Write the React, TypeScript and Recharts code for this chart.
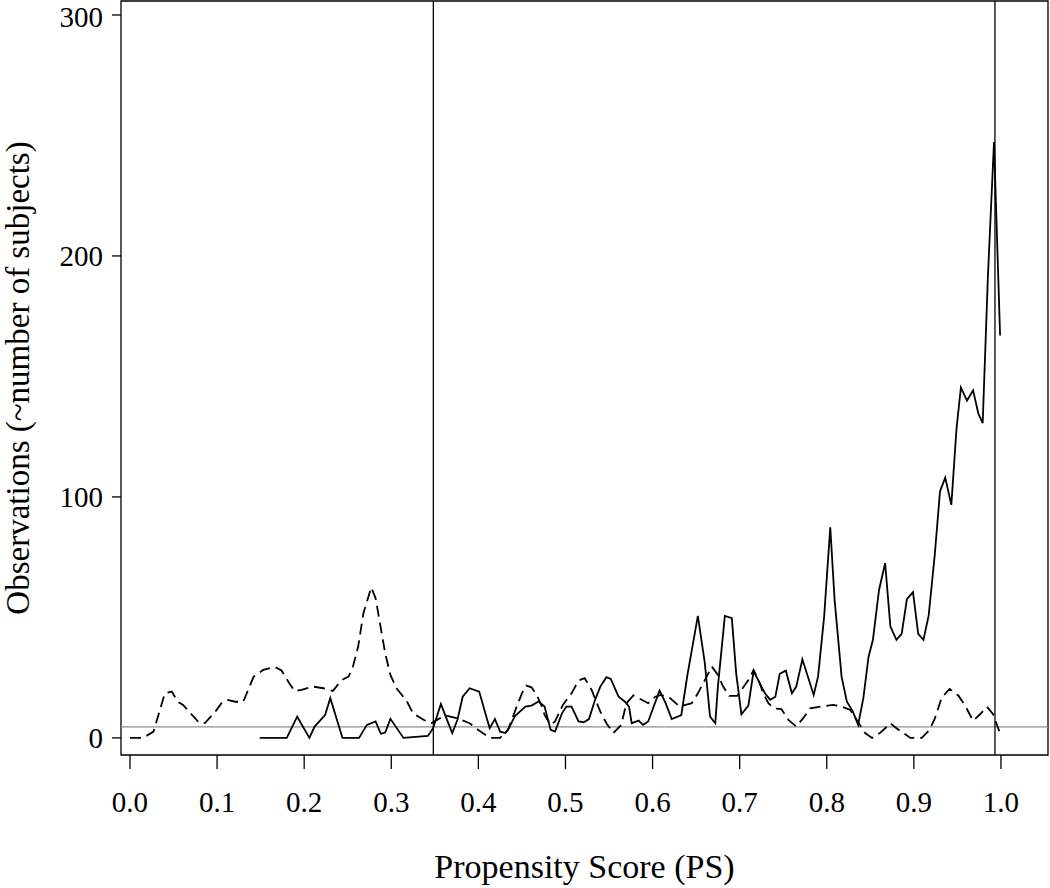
import { LineChart, Line, XAxis, YAxis, ReferenceLine, ReferenceArea } from "recharts"

// solid curve (treated)
const solidPs = [
  0.149, 0.18, 0.192, 0.206, 0.212, 0.224, 0.23, 0.244, 0.263, 0.272, 0.282, 0.288, 0.293, 0.299, 0.314,
  0.342, 0.348, 0.357, 0.364, 0.37, 0.376, 0.382, 0.39, 0.401, 0.408, 0.413, 0.419, 0.425, 0.431, 0.435,
  0.442, 0.454, 0.461, 0.469, 0.476, 0.483, 0.488, 0.496, 0.501, 0.507, 0.515, 0.521, 0.527, 0.534, 0.54,
  0.547, 0.552, 0.561, 0.568, 0.573, 0.576, 0.584, 0.589, 0.595, 0.608, 0.615, 0.622, 0.633, 0.64, 0.652,
  0.66, 0.666, 0.672, 0.675, 0.683, 0.691, 0.696, 0.702, 0.71, 0.716, 0.723, 0.729, 0.735, 0.741, 0.746,
  0.753, 0.76, 0.765, 0.772, 0.785, 0.79, 0.797, 0.804, 0.809, 0.817, 0.823, 0.83, 0.836, 0.842, 0.848,
  0.853, 0.86, 0.867, 0.873, 0.88, 0.886, 0.892, 0.899, 0.905, 0.911, 0.917, 0.924, 0.93, 0.936, 0.943,
  0.949, 0.954, 0.961, 0.968, 0.974, 0.979, 0.985, 0.992, 0.999,
]
const solidObs = [
  0, 0, 8.8, 0, 4.7, 9.5, 16.5, 0, 0, 5.4, 6.8, 1.7, 2.2, 7.9, 0,
  0.8, 4, 14.1, 7.5, 2, 7.5, 17.1, 20.6, 19.2, 10.2, 4, 7.8, 2.6, 2, 4,
  9.1, 13, 13.4, 15.1, 13, 3.3, 2.6, 10.2, 13, 13, 6.8, 6.5, 7.8, 15.8, 21.3,
  25.2, 24.5, 17.1, 15.1, 13, 6.1, 7.2, 5.4, 6.8, 19.6, 14.4, 7.8, 9.5, 26.1, 50.6,
  31, 8.8, 6.1, 21.3, 50.6, 49.7, 26.8, 9.8, 13.4, 27.7, 22.7, 18.5, 15.8, 17.1, 26.6,
  27.9, 18.5, 21.3, 32.6, 17.8, 25.4, 50.3, 87.4, 57.3, 25.4, 15.1, 10.9, 5.4, 16.5, 33.7,
  40.7, 61.4, 72.5, 46.3, 40.7, 43.2, 57.6, 60.5, 43.2, 40.7, 50.8, 76, 102.3, 108, 96.7,
  128.5, 145.4, 140, 144.2, 134.6, 130.6, 191.4, 247.3, 167,
]

// dashed curve (untreated)
const dashedPs = [
  0, 0.015, 0.027, 0.04, 0.048, 0.055, 0.061, 0.069, 0.08, 0.086, 0.098, 0.105, 0.111, 0.121, 0.13,
  0.142, 0.153, 0.166, 0.174, 0.184, 0.189, 0.197, 0.21, 0.222, 0.233, 0.243, 0.251, 0.256, 0.262, 0.268,
  0.277, 0.282, 0.287, 0.293, 0.299, 0.306, 0.318, 0.325, 0.337, 0.346, 0.356, 0.362, 0.375, 0.39, 0.4,
  0.413, 0.425, 0.434, 0.444, 0.45, 0.455, 0.461, 0.467, 0.473, 0.476, 0.483, 0.488, 0.497, 0.507, 0.515,
  0.522, 0.53, 0.54, 0.547, 0.555, 0.564, 0.57, 0.578, 0.584, 0.595, 0.603, 0.61, 0.62, 0.631, 0.645,
  0.652, 0.66, 0.668, 0.675, 0.681, 0.688, 0.697, 0.702, 0.71, 0.716, 0.723, 0.727, 0.733, 0.739, 0.748,
  0.756, 0.765, 0.773, 0.781, 0.794, 0.807, 0.817, 0.827, 0.832, 0.838, 0.844, 0.852, 0.861, 0.867, 0.873,
  0.88, 0.888, 0.896, 0.909, 0.918, 0.924, 0.932, 0.941, 0.951, 0.959, 0.968, 0.976, 0.984, 0.991, 0.998,
]
const dashedObs = [
  0, 0, 2.6, 18.5, 19.2, 15, 13.7, 10.4, 6.1, 6.1, 10.9, 14.4, 15.8, 15, 15,
  25.4, 28.2, 29.5, 28, 22, 19.5, 19.9, 21.3, 20.6, 19.5, 24, 25.4, 29.6, 37.9, 51.7,
  62.5, 58, 47.6, 35.1, 26.1, 20.6, 15.1, 10.2, 7.5, 6.1, 8.2, 9.3, 8.2, 6.1, 3.3,
  0, 0, 3.3, 13, 18.5, 21.7, 21, 17.8, 13, 9.5, 5.4, 6.8, 13.7, 18.5, 23.8,
  24.8, 19.9, 10.9, 6.1, 2, 5.4, 14.4, 17.6, 16.5, 14.4, 17.1, 17.8, 16.5, 13, 14.4,
  18.5, 24, 29.6, 26.1, 21.3, 17.4, 17.4, 19.9, 24, 28.2, 22.7, 18.5, 14.4, 12.3, 11.9,
  7.5, 4.7, 8.2, 12.3, 13, 13.7, 13, 11.6, 8.8, 5.4, 2, 0, 2, 4, 6.1,
  4, 2, 0, 0, 3.3, 8, 16.8, 20.3, 17.6, 13.3, 7.1, 9.8, 12.9, 9.8, 2.8,
]

const xTicks = [0, 0.1, 0.2, 0.3, 0.4, 0.5, 0.6, 0.7, 0.8, 0.9, 1.0]
const yTicks = [0, 100, 200, 300]
const xDomain = [-0.0103, 1.054]
const yDomain = [-7.1, 305.8]
const psCutoffs = [0.3483, 0.9931]
const baselineObs = 4.6

const solidData = solidPs.map((ps, i) => ({ ps, obs: solidObs[i] }))
const dashedData = dashedPs.map((ps, i) => ({ ps, obs: dashedObs[i] }))

const font = "'Liberation Serif', 'Times New Roman', serif"

function XLabel(props: any) {
  const { viewBox } = props
  const cx = viewBox.x + viewBox.width / 2
  return (
    <text x={cx} y={viewBox.y + 123} textAnchor="middle" fontFamily={font} fontSize={34} fill="#000">
      Propensity Score (PS)
    </text>
  )
}

function YLabel(props: any) {
  const { viewBox } = props
  // baseline kept just inside the left edge
  const cx = viewBox.x + 29
  const cy = viewBox.y + viewBox.height / 2
  return (
    <text x={cx} y={cy} transform={`rotate(-90, ${cx}, ${cy})`} textAnchor="middle" fontFamily={font} fontSize={33} fill="#000">
      Observations (~number of subjects)
    </text>
  )
}

export default function App() {
  return (
    <div style={{ position: "absolute", left: 0, top: 0, background: "#fff" }}>
      <LineChart width={1050} height={888} margin={{ top: 1, right: 2, left: 0, bottom: 0 }}>
        <XAxis
          type="number"
          dataKey="ps"
          domain={xDomain}
          ticks={xTicks}
          allowDataOverflow
          tickFormatter={(v) => v.toFixed(1)}
          height={133}
          axisLine={false}
          tickSize={14}
          tickMargin={22}
          tickLine={{ stroke: "#000", strokeWidth: 1.3 }}
          tick={{ fill: "#000", fontSize: 29, fontFamily: font }}
          label={<XLabel />}
        />
        <YAxis
          type="number"
          domain={yDomain}
          ticks={yTicks}
          allowDataOverflow
          width={121}
          axisLine={false}
          tickSize={9}
          tickMargin={9}
          tickLine={{ stroke: "#000", strokeWidth: 1.3 }}
          tick={{ fill: "#000", fontSize: 29, fontFamily: font }}
          label={<YLabel />}
        />
        <ReferenceArea
          x1={xDomain[0]}
          x2={xDomain[1]}
          y1={yDomain[0]}
          y2={yDomain[1]}
          fill="none"
          stroke="#000"
          strokeWidth={1.3}
        />
        <ReferenceLine y={baselineObs} stroke="#8c8c8c" strokeWidth={1.2} />
        {psCutoffs.map((c) => (
          <ReferenceLine key={c} x={c} stroke="#000" strokeWidth={1.3} />
        ))}
        <Line
          data={dashedData}
          dataKey="obs"
          type="linear"
          stroke="#000"
          strokeWidth={1.8}
          strokeDasharray="11 6"
          dot={false}
          activeDot={false}
          isAnimationActive={false}
        />
        <Line
          data={solidData}
          dataKey="obs"
          type="linear"
          stroke="#000"
          strokeWidth={1.8}
          dot={false}
          activeDot={false}
          isAnimationActive={false}
        />
      </LineChart>
    </div>
  )
}
